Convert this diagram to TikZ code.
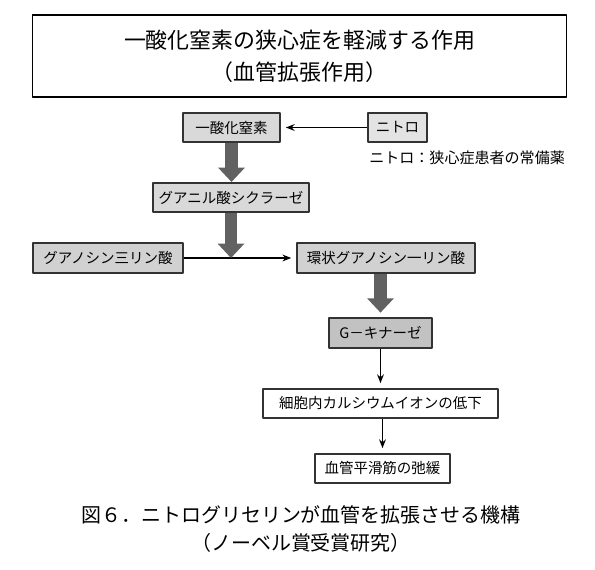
\documentclass[tikz,border=0pt]{standalone}
\usepackage{fontspec}
\newfontfamily\jpfont{Noto Sans CJK JP}
\usetikzlibrary{arrows.meta, positioning}

\begin{document}
\begin{tikzpicture}[x=0.025cm, y=-0.025cm, >=Stealth, line join=round,
    box/.style={draw=black!80, line width=1.3pt, minimum height=0.73cm, inner sep=0pt,
        font=\jpfont\fontsize{10.3pt}{12pt}\selectfont},
    graybox/.style={box, fill=gray!30},
    darkbox/.style={box, fill=gray!48},
    whitebox/.style={box, fill=white},
    bigarrow/.style={draw=black!62, line width=0.3cm, line cap=butt,
        -{Triangle[length=0.36cm, width=0.65cm]}},
    thinarrow/.style={-{Stealth[length=0.22cm, width=0.17cm]}, line width=1pt, shorten >=0.12cm}]

    \useasboundingbox (0,0) rectangle (595,570);

    % Title
    \node[draw, line width=0.9pt, minimum width=13.33cm, minimum height=2.05cm, align=center,
        font=\jpfont\fontsize{15.6pt}{22.8pt}\selectfont] (title) at (299.5,56)
        {一酸化窒素の狭心症を軽減する作用\\（血管拡張作用）};

    % Boxes
    \node[graybox, minimum width=2.43cm] (no) at (231.5,127.5) {一酸化窒素};
    \node[graybox, minimum width=1.48cm, fill=gray!22] (nitro) at (397.5,127.5) {ニトロ};
    \node[graybox, minimum width=3.9cm] (gc) at (231,197.5) {グアニル酸シクラーゼ};
    \node[graybox, minimum width=3.75cm, fill=gray!36] (gtp) at (108,258) {グアノシン三リン酸};
    \node[graybox, minimum width=4.45cm, fill=gray!36] (cgmp) at (386,258) {環状グアノシン一リン酸};
    \node[darkbox, minimum width=2.58cm] (gk) at (380.5,333) {G－キナーゼ};
    \node[whitebox, minimum width=5.88cm] (ca) at (380.5,403.5) {細胞内カルシウムイオンの低下};
    \node[whitebox, minimum width=3.38cm] (relax) at (382.5,468.5) {血管平滑筋の弛緩};

    % Note
    \node[anchor=west, inner sep=0pt, font=\jpfont\fontsize{10.7pt}{12pt}\selectfont] (note)
        at (369,158) {ニトロ：狭心症患者の常備薬};

    % Thin arrows
    \draw[thinarrow] (nitro) -- (no);
    \draw[thinarrow] (gtp) -- (cgmp);
    \draw[thinarrow] (gk) -- (gk |- ca.north);
    \draw[thinarrow] (ca.south -| relax.north) -- (relax);

    % Thick arrows
    \coordinate (join) at (gc.south |- gtp.east);
    \draw[bigarrow] (no.south) -- (no.south |- gc.north);
    \draw[bigarrow] (gc.south) -- (join);
    \draw[bigarrow, shorten >=0.12cm] (gk.north |- cgmp.south) -- (gk.north);

    % Caption
    \node[align=center, font=\jpfont\fontsize{14.2pt}{19.9pt}\selectfont] (caption)
        at (301,529) {図６．ニトログリセリンが血管を拡張させる機構\\（ノーベル賞受賞研究）};

\end{tikzpicture}
\end{document}
